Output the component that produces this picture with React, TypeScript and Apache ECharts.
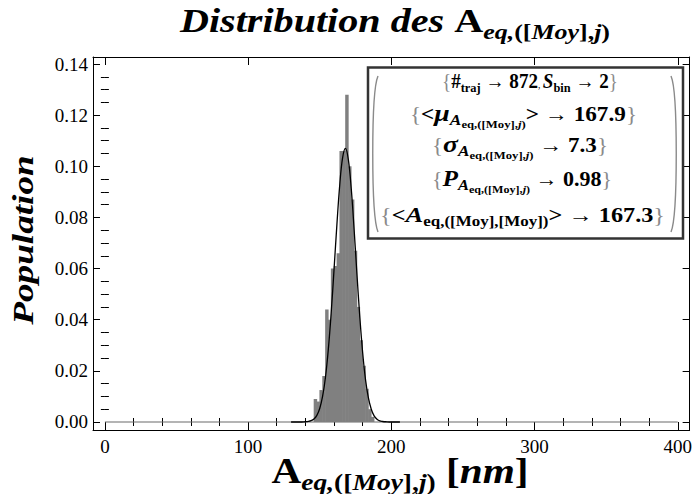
import React, { useEffect, useRef } from "react";
import * as echarts from "echarts";

// ---------- data ----------
const binWidth = 2;
const binStarts = [146, 148, 150, 152, 154, 156, 158, 160, 162, 164, 166, 168, 170, 172, 174, 176, 178, 180, 182, 184, 186];
const population = [0.009, 0.008, 0.0125, 0.018, 0.044, 0.040, 0.060, 0.061, 0.066, 0.106, 0.106, 0.128, 0.100, 0.087, 0.067, 0.045, 0.032, 0.022, 0.013, 0.005, 0.002];

const curveX = [130, 136, 140, 142, 144, 146, 148, 150, 152, 154, 156, 158, 160, 162, 164, 166, 168, 170, 172, 174, 176, 178, 180, 182, 184, 186, 188, 190, 192, 194, 196, 200, 206];
const curveY = [0, 0, 0.0001, 0.0002, 0.0005, 0.0012, 0.0026, 0.0053, 0.0100, 0.0174, 0.0283, 0.0426, 0.0596, 0.0772, 0.0928, 0.1034, 0.1070, 0.1026, 0.0914, 0.0755, 0.0578, 0.0411, 0.0271, 0.0165, 0.0094, 0.0050, 0.0024, 0.0011, 0.0004, 0.0002, 0.0001, 0, 0];

const baselineX = [0, 400];

const xTickLabels = [0, 100, 200, 300, 400];
const xMinorTicks = [20, 40, 60, 80, 120, 140, 160, 180, 220, 240, 260, 280, 320, 340, 360, 380];
const yTickLabels = [0, 0.02, 0.04, 0.06, 0.08, 0.1, 0.12, 0.14];
const yMinorTicks = [0.005, 0.01, 0.015, 0.025, 0.03, 0.035, 0.045, 0.05, 0.055, 0.065, 0.07, 0.075, 0.085, 0.09, 0.095, 0.105, 0.11, 0.115, 0.125, 0.13, 0.135];

const nTraj = "872";
const sBin = "2";
const meanMu = "167.9";
const sigma = "7.3";
const pValue = "0.98";
const meanA = "167.3";

// ---------- layout ----------
const SERIF = "Liberation Serif";
const X_MIN = -8.3;
const X_MAX = 408.3;
const Y_MIN = -0.00313;
const Y_MAX = 0.14274;

type Seg = { t: string; size: number; bold?: boolean; italic?: boolean; dy?: number; color?: string };

let measureCtx: CanvasRenderingContext2D | null = null;
function fontStr(s: Seg) {
  return `${s.italic ? "italic " : ""}${s.bold ? "bold " : ""}${s.size}px "${SERIF}"`;
}
function measure(s: Seg) {
  if (!measureCtx) measureCtx = document.createElement("canvas").getContext("2d");
  measureCtx!.font = fontStr(s);
  return measureCtx!.measureText(s.t).width;
}
function mathLine(cx: number, baseline: number, segs: Seg[], targetWidth: number | null, z: number) {
  const widths = segs.map(measure);
  const natural = widths.reduce((a, b) => a + b, 0);
  const sx = targetWidth ? targetWidth / natural : 1;
  let x = cx - (natural * sx) / 2;
  return segs.map((s, i) => {
    const el = {
      type: "text",
      x,
      y: baseline + (s.dy || 0) - 0.34 * s.size,
      scaleX: sx,
      z,
      style: {
        text: s.t,
        fontFamily: SERIF,
        fontSize: s.size,
        fontWeight: s.bold ? "bold" : "normal",
        fontStyle: s.italic ? "italic" : "normal",
        fill: s.color || "#000",
        textAlign: "left",
        textVerticalAlign: "middle",
        align: "left",
        verticalAlign: "middle",
      },
    };
    x += widths[i] * sx;
    return el;
  });
}

function subscriptAeqMoyJ(size: number, dy: number): Seg[] {
  return [
    { t: "eq", size, bold: true, italic: true, dy },
    { t: ",", size, bold: true, italic: true, dy },
    { t: "([", size, bold: true, dy },
    { t: "Moy", size, bold: true, italic: true, dy },
    { t: "],", size, bold: true, dy },
    { t: "j", size, bold: true, italic: true, dy },
    { t: ")", size, bold: true, dy },
  ];
}
function legendSub(dy: number): Seg[] {
  return [
    { t: "A", size: 15, bold: true, italic: true, dy },
    { t: "eq,([Moy],", size: 11, bold: true, dy: dy + 3 },
    { t: "j", size: 11, bold: true, italic: true, dy: dy + 3 },
    { t: ")", size: 11, bold: true, dy: dy + 3 },
  ];
}

const BR = "#8a8a8a";

export default function App() {
  const ref = useRef<HTMLDivElement>(null);
  useEffect(() => {
    if (!ref.current) return;
    const chart = echarts.init(ref.current, null, { renderer: "svg" });

    const titleSegs: Seg[] = [
      { t: "Distribution des ", size: 34, bold: true, italic: true },
      { t: "A", size: 34, bold: true },
      ...subscriptAeqMoyJ(22, 7),
    ];
    const xNameSegs: Seg[] = [
      { t: "A", size: 36, bold: true },
      ...subscriptAeqMoyJ(24, 7),
      { t: " [", size: 36, bold: true },
      { t: "nm", size: 36, bold: true, italic: true },
      { t: "]", size: 36, bold: true },
    ];
    const l1: Seg[] = [
      { t: "{", size: 20, color: BR },
      { t: "#", size: 20, bold: true },
      { t: "traj", size: 13, bold: true, dy: 4 },
      { t: " → " + nTraj, size: 20, bold: true },
      { t: ", ", size: 10 },
      { t: "S", size: 20, bold: true, italic: true },
      { t: "bin", size: 13, bold: true, dy: 4 },
      { t: " → " + sBin, size: 20, bold: true },
      { t: "}", size: 20, color: BR },
    ];
    const l2: Seg[] = [
      { t: "{", size: 20, color: BR },
      { t: "<", size: 20, bold: true },
      { t: "μ", size: 24, bold: true, italic: true },
      ...legendSub(4),
      { t: ">", size: 20, bold: true },
      { t: " → " + meanMu, size: 20, bold: true },
      { t: "}", size: 20, color: BR },
    ];
    const l3: Seg[] = [
      { t: "{", size: 20, color: BR },
      { t: "σ", size: 24, bold: true, italic: true },
      ...legendSub(4),
      { t: " → " + sigma, size: 20, bold: true },
      { t: "}", size: 20, color: BR },
    ];
    const l4: Seg[] = [
      { t: "{", size: 20, color: BR },
      { t: "P", size: 23, bold: true, italic: true },
      ...legendSub(4),
      { t: " → " + pValue, size: 20, bold: true },
      { t: "}", size: 20, color: BR },
    ];
    const l5: Seg[] = [
      { t: "{", size: 20, color: BR },
      { t: "<", size: 20, bold: true },
      { t: "A", size: 22, bold: true, italic: true },
      { t: "eq,([Moy],[Moy])", size: 14, bold: true, dy: 4 },
      { t: ">", size: 20, bold: true },
      { t: " → " + meanA, size: 20, bold: true },
      { t: "}", size: 20, color: BR },
    ];

    const graphics: any[] = [
      ...mathLine(395, 32, titleSegs, 430, 10),
      ...mathLine(400, 483, xNameSegs, 257, 10),
      {
        type: "text",
        x: 23,
        y: 240,
        rotation: Math.PI / 2,
        scaleX: 1.24,
        z: 10,
        style: {
          text: "Population",
          fontFamily: SERIF,
          fontSize: 30,
          fontWeight: "bold",
          fontStyle: "italic",
          fill: "#000",
          textAlign: "center",
          textVerticalAlign: "middle",
          align: "center",
          verticalAlign: "middle",
        },
      },
      {
        type: "rect",
        z: 100,
        shape: { x: 368, y: 67.5, width: 315, height: 171 },
        style: { fill: "#fff", stroke: "#333", lineWidth: 2.5 },
      },
      {
        type: "bezierCurve",
        z: 101,
        shape: { x1: 378, y1: 76, cpx1: 371, cpy1: 92, cpx2: 371, cpy2: 215, x2: 378, y2: 232 },
        style: { stroke: BR, lineWidth: 1.4, fill: null },
      },
      {
        type: "bezierCurve",
        z: 101,
        shape: { x1: 671, y1: 76, cpx1: 678, cpy1: 92, cpx2: 678, cpy2: 215, x2: 671, y2: 232 },
        style: { stroke: BR, lineWidth: 1.4, fill: null },
      },
      ...mathLine(530, 88, l1, 176, 102),
      ...mathLine(523.5, 121, l2, 227, 102),
      ...mathLine(520, 152, l3, 176, 102),
      ...mathLine(522, 186, l4, 180, 102),
      ...mathLine(522.5, 222, l5, 285, 102),
    ];

    const tickLabel = { fontFamily: SERIF, fontSize: 19, color: "#000" };
    const baseX = { type: "value", min: X_MIN, max: X_MAX, gridIndex: 0, splitLine: { show: false } };
    const baseY = { type: "value", min: Y_MIN, max: Y_MAX, gridIndex: 0, splitLine: { show: false } };
    const line = { show: true, onZero: false, lineStyle: { color: "#000", width: 1 } };
    const noLine = { show: false };

    chart.setOption({
      animation: false,
      backgroundColor: "#fff",
      grid: { left: 93, top: 57, width: 602, height: 373 },
      xAxis: [
        {
          ...baseX,
          position: "bottom",
          axisLine: line,
          axisTick: { show: true, inside: true, length: 8, customValues: xTickLabels, lineStyle: { color: "#000" } },
          axisLabel: { ...tickLabel, customValues: xTickLabels, margin: 7 },
        },
        {
          ...baseX,
          position: "bottom",
          axisLine: noLine,
          axisTick: { show: true, inside: true, length: 4, customValues: xMinorTicks, lineStyle: { color: "#000" } },
          axisLabel: { show: false },
        },
        {
          ...baseX,
          position: "top",
          axisLine: line,
          axisTick: { show: true, inside: true, length: 8, customValues: xTickLabels, lineStyle: { color: "#000" } },
          axisLabel: { show: false },
        },
        {
          ...baseX,
          position: "top",
          axisLine: noLine,
          axisTick: { show: true, inside: true, length: 4, customValues: xMinorTicks, lineStyle: { color: "#000" } },
          axisLabel: { show: false },
        },
      ],
      yAxis: [
        {
          ...baseY,
          position: "left",
          axisLine: line,
          axisTick: { show: true, inside: true, length: 7, customValues: yTickLabels, lineStyle: { color: "#000" } },
          axisLabel: { ...tickLabel, customValues: yTickLabels, margin: 5, formatter: (v: number) => v.toFixed(2) },
        },
        {
          ...baseY,
          position: "left",
          axisLine: noLine,
          axisTick: { show: true, inside: true, length: 4, customValues: yMinorTicks, lineStyle: { color: "#000" } },
          axisLabel: { show: false },
        },
        {
          ...baseY,
          position: "right",
          axisLine: line,
          axisTick: { show: true, inside: true, length: 7, customValues: yTickLabels, lineStyle: { color: "#000" } },
          axisLabel: { show: false },
        },
        {
          ...baseY,
          position: "right",
          axisLine: noLine,
          axisTick: { show: true, inside: true, length: 4, customValues: yMinorTicks, lineStyle: { color: "#000" } },
          axisLabel: { show: false },
        },
      ],
      series: [
        {
          type: "line",
          xAxisIndex: 0,
          yAxisIndex: 0,
          data: baselineX.map((x) => [x, 0]),
          symbol: "none",
          lineStyle: { color: "#6a6a6a", width: 1.2 },
          z: 1,
        },
        {
          type: "custom",
          xAxisIndex: 0,
          yAxisIndex: 0,
          data: binStarts.map((b, i) => [b, population[i]]),
          renderItem: (_params: any, api: any) => {
            const x0 = api.value(0);
            const v = api.value(1);
            const p0 = api.coord([x0, v]);
            const p1 = api.coord([x0 + binWidth, 0]);
            return {
              type: "rect",
              shape: { x: p0[0] - 0.3, y: p0[1], width: p1[0] - p0[0] + 0.6, height: p1[1] - p0[1] },
              style: { fill: "#808080", stroke: null, lineWidth: 0 },
            };
          },
          z: 2,
        },
        {
          type: "line",
          xAxisIndex: 0,
          yAxisIndex: 0,
          data: curveX.map((x, i) => [x, curveY[i]]),
          symbol: "none",
          smooth: 0.4,
          lineStyle: { color: "#000", width: 1.3 },
          z: 3,
        },
      ],
      graphic: graphics,
    });
    return () => chart.dispose();
  }, []);
  return <div ref={ref} style={{ position: "absolute", left: 0, top: 0, width: 695, height: 494 }} />;
}
